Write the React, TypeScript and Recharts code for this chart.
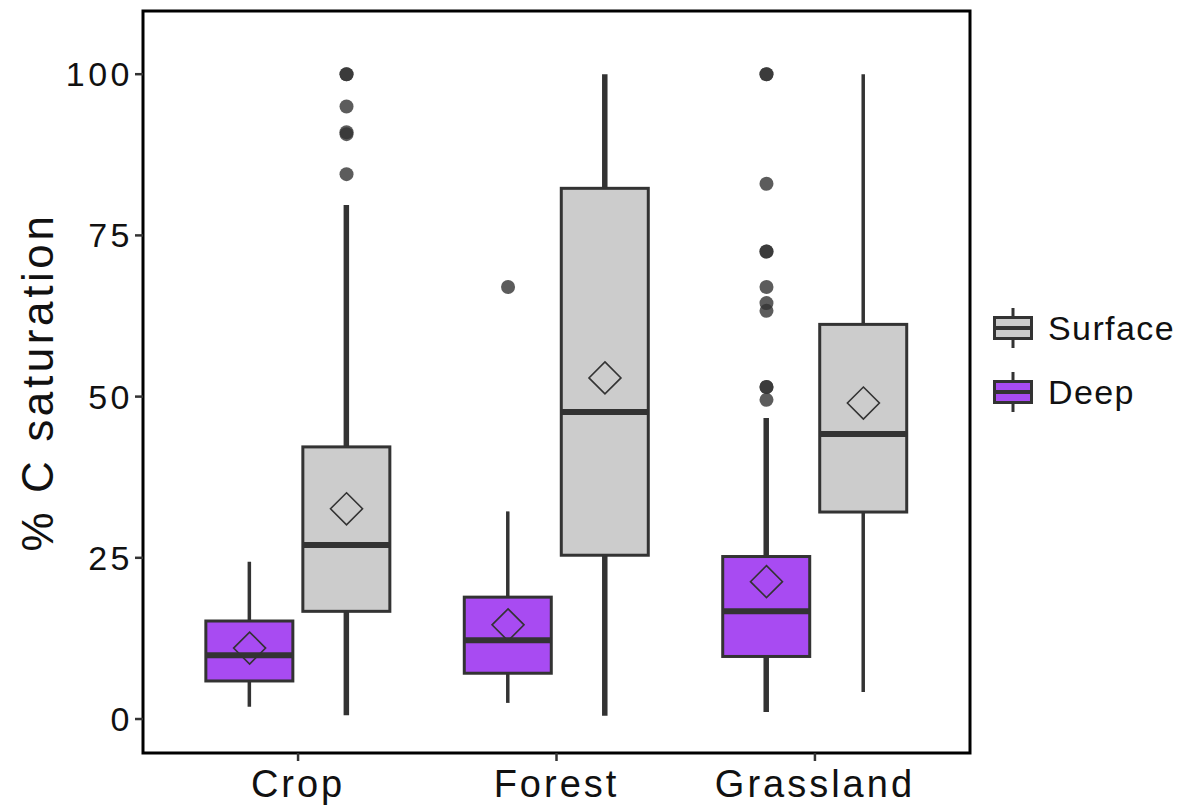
import React from 'react';
import { ComposedChart, Bar, Scatter, XAxis, YAxis, ReferenceArea } from 'recharts';

// box statistics (% C saturation)
const CATEGORIES = ['Crop', 'Forest', 'Grassland'];

const DEEP_MIN = [1.9, 2.5, 1.1];
const DEEP_Q1 = [5.9, 7.1, 9.7];
const DEEP_MEDIAN = [9.9, 12.2, 16.7];
const DEEP_Q3 = [15.2, 18.9, 25.2];
const DEEP_MAX = [24.4, 32.2, 46.7];
const DEEP_MEAN = [11.0, 14.6, 21.3];
const DEEP_OUTLIERS = [[], [67], [100, 100, 83, 72.5, 72.5, 67, 64.5, 63.3, 51.5, 51.5, 49.5]];

const SURFACE_MIN = [0.6, 0.5, 4.2];
const SURFACE_Q1 = [16.7, 25.4, 32.1];
const SURFACE_MEDIAN = [27.0, 47.6, 44.2];
const SURFACE_Q3 = [42.2, 82.3, 61.2];
const SURFACE_MAX = [79.7, 100, 100];
const SURFACE_MEAN = [32.6, 52.9, 49.0];
const SURFACE_OUTLIERS = [[100, 100, 95, 91, 90.7, 84.5], [], []];

const Y_TICKS = [0, 25, 50, 75, 100];

const W = 1179;
const H = 800;
const PLOT_LEFT = 135;
const PLOT_RIGHT = 962;
const PLOT_TOP = 3;
const X_AXIS_H = 55;
const Y_DOMAIN: [number, number] = [-5.27, 109.8];
const X_DOMAIN: [number, number] = [0.4, 3.6];
const DODGE = 0.1875;
// ggplot-style discrete expansion (0.6 units each side -> 0.1 unit beyond the band)
const CAT_PAD = ((PLOT_RIGHT - PLOT_LEFT) / (X_DOMAIN[1] - X_DOMAIN[0])) * 0.1;

const SURFACE_FILL = '#cccccc';
const DEEP_FILL = '#a84bf2';
const LINE = '#333333';
const FONT = '"Liberation Sans", Arial, Helvetica, sans-serif';

const WHISKER_WIDTH: Record<string, number[]> = {
  deep: [3.5, 3.5, 5.5],
  surface: [5.5, 5.5, 3.5],
};

const rows = CATEGORIES.map((cat, i) => ({
  cat,
  deepWhisker: [DEEP_MIN[i], DEEP_MAX[i]],
  deepBox: [DEEP_Q1[i], DEEP_Q3[i]],
  deepMed: [DEEP_Q1[i], DEEP_MEDIAN[i]],
  surfWhisker: [SURFACE_MIN[i], SURFACE_MAX[i]],
  surfBox: [SURFACE_Q1[i], SURFACE_Q3[i]],
  surfMed: [SURFACE_Q1[i], SURFACE_MEDIAN[i]],
}));

const meanPoints = CATEGORIES.flatMap((_, i) => [
  { x: i + 1 - DODGE, y: DEEP_MEAN[i] },
  { x: i + 1 + DODGE, y: SURFACE_MEAN[i] },
]);

const outlierPoints = CATEGORIES.flatMap((_, i) => [
  ...DEEP_OUTLIERS[i].map((v) => ({ x: i + 1 - DODGE, y: v })),
  ...SURFACE_OUTLIERS[i].map((v) => ({ x: i + 1 + DODGE, y: v })),
]);

const whiskerShape = (series: string) => (props: any) => {
  const { x, y, width, height, index } = props;
  const top = Math.min(y, y + height);
  const cx = x + width / 2;
  return (
    <line x1={cx} x2={cx} y1={top} y2={top + Math.abs(height)} stroke={LINE} strokeWidth={WHISKER_WIDTH[series][index]} />
  );
};

const boxShape = (fill: string) => (props: any) => {
  const { x, y, width, height } = props;
  const top = Math.min(y, y + height);
  return <rect x={x} y={top} width={width} height={Math.abs(height)} fill={fill} stroke={LINE} strokeWidth={3} />;
};

const medianShape = (props: any) => {
  const { x, y, width, height } = props;
  const top = Math.min(y, y + height);
  return <line x1={x} x2={x + width} y1={top} y2={top} stroke={LINE} strokeWidth={6} />;
};

const diamond = (props: any) => {
  const { cx, cy } = props;
  const r = 16;
  return (
    <path d={`M${cx},${cy - r}L${cx + r},${cy}L${cx},${cy + r}L${cx - r},${cy}Z`} fill="none" stroke={LINE} strokeWidth={1.6} />
  );
};

const dot = (props: any) => <circle cx={props.cx} cy={props.cy} r={7} fill={LINE} fillOpacity={0.8} />;

const YTitle = (props: any) => {
  const vb = props.viewBox || { x: 0, y: 0, width: 0, height: 0 };
  const cx = vb.x + 29;
  const cy = vb.y + vb.height / 2;
  return (
    <text
      x={cx}
      y={cy}
      transform={`rotate(-90, ${cx}, ${cy})`}
      textAnchor="middle"
      dominantBaseline="central"
      fontSize={44}
      letterSpacing={3.6}
      fill="#111"
      fontFamily={FONT}
    >
      % C saturation
    </text>
  );
};

const LegendKey = ({ fill }: { fill: string }) => (
  <svg width={42} height={44} style={{ display: 'block' }}>
    <line x1={21} x2={21} y1={2} y2={42} stroke={LINE} strokeWidth={3} />
    <rect x={2.5} y={11.5} width={37} height={21} fill={fill} stroke={LINE} strokeWidth={3} />
    <line x1={2.5} x2={39.5} y1={22} y2={22} stroke={LINE} strokeWidth={4} />
  </svg>
);

const LEGEND_ITEMS = [
  { label: 'Surface', fill: SURFACE_FILL },
  { label: 'Deep', fill: DEEP_FILL },
];

export default function App() {
  const catAxisProps = {
    dataKey: 'cat',
    type: 'category' as const,
    padding: { left: CAT_PAD, right: CAT_PAD },
  };
  return (
    <div style={{ position: 'relative', width: W, height: H, fontFamily: FONT }}>
      <ComposedChart
        width={W}
        height={H}
        data={rows}
        margin={{ top: PLOT_TOP, right: W - PLOT_RIGHT, bottom: 0, left: 0 }}
        barGap={10}
        barSize={87}
      >
        <XAxis
          xAxisId="b"
          {...catAxisProps}
          height={X_AXIS_H}
          axisLine={false}
          tickLine={{ stroke: LINE, strokeWidth: 2.5 }}
          tickSize={8}
          tickMargin={9}
          tick={{ fontSize: 38, fill: '#111', fontFamily: FONT, letterSpacing: 3 }}
        />
        <XAxis xAxisId="w" {...catAxisProps} hide />
        <XAxis xAxisId="m" {...catAxisProps} hide />
        <XAxis xAxisId="num" dataKey="x" type="number" domain={X_DOMAIN} allowDataOverflow hide />
        <YAxis
          width={PLOT_LEFT}
          domain={Y_DOMAIN}
          ticks={Y_TICKS}
          allowDataOverflow
          axisLine={false}
          tickLine={{ stroke: LINE, strokeWidth: 2.5 }}
          tickSize={8}
          tickMargin={2}
          tick={{ fontSize: 34, fill: '#111', fontFamily: FONT, letterSpacing: 3.5 }}
          label={<YTitle />}
        />

        <Bar xAxisId="w" dataKey="deepWhisker" shape={whiskerShape('deep')} isAnimationActive={false} />
        <Bar xAxisId="w" dataKey="surfWhisker" shape={whiskerShape('surface')} isAnimationActive={false} />

        <Bar xAxisId="b" dataKey="deepBox" shape={boxShape(DEEP_FILL)} isAnimationActive={false} />
        <Bar xAxisId="b" dataKey="surfBox" shape={boxShape(SURFACE_FILL)} isAnimationActive={false} />

        <Bar xAxisId="m" dataKey="deepMed" shape={medianShape} isAnimationActive={false} />
        <Bar xAxisId="m" dataKey="surfMed" shape={medianShape} isAnimationActive={false} />

        <Scatter xAxisId="num" data={outlierPoints} dataKey="y" shape={dot} isAnimationActive={false} />
        <Scatter xAxisId="num" data={meanPoints} dataKey="y" shape={diamond} isAnimationActive={false} />

        <ReferenceArea
          xAxisId="num"
          x1={X_DOMAIN[0]}
          x2={X_DOMAIN[1]}
          y1={Y_DOMAIN[0]}
          y2={Y_DOMAIN[1]}
          fill="none"
          fillOpacity={0}
          stroke="#000"
          strokeWidth={3}
          ifOverflow="visible"
        />
      </ComposedChart>

      <div style={{ position: 'absolute', left: 984, top: 288, whiteSpace: 'nowrap' }}>
        {LEGEND_ITEMS.map((it) => (
          <div key={it.label} style={{ display: 'flex', alignItems: 'center', height: 64 }}>
            <LegendKey fill={it.fill} />
            <span style={{ fontSize: 34, letterSpacing: 1.4, color: '#111', marginLeft: 14, lineHeight: '44px' }}>
              {it.label}
            </span>
          </div>
        ))}
      </div>
    </div>
  );
}
